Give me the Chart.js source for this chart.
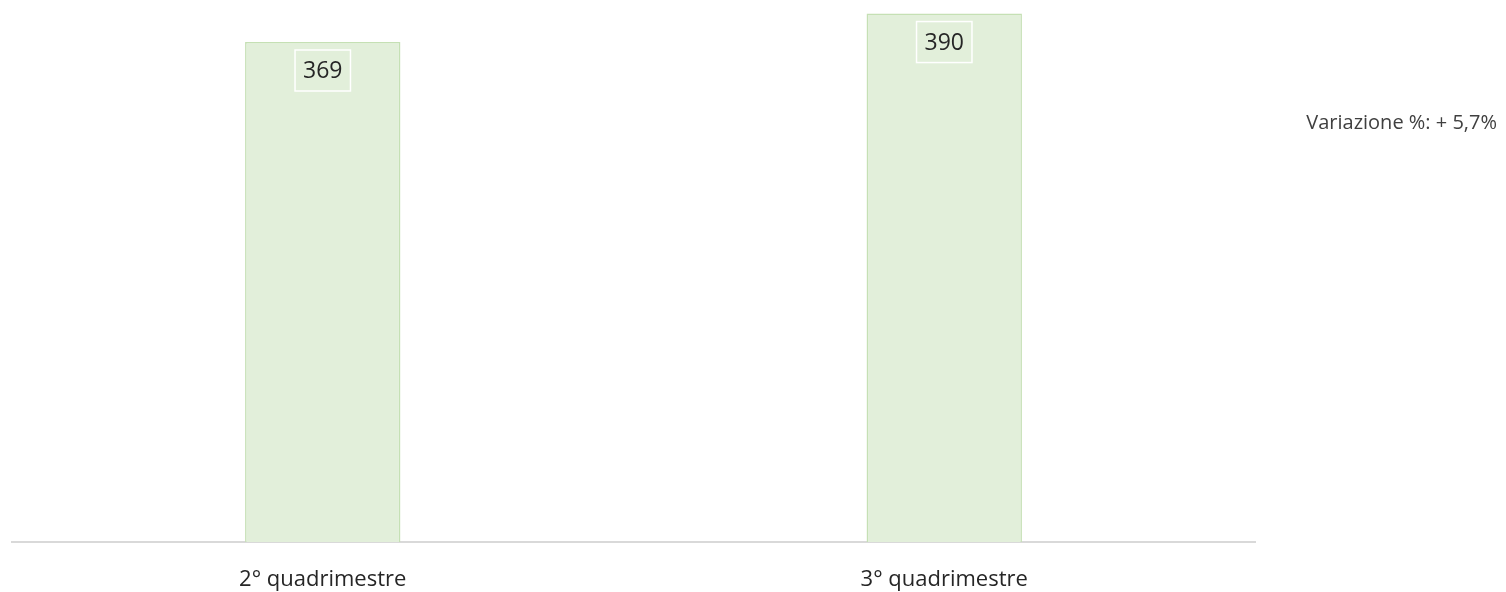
<!DOCTYPE html>
<html>
<head>
<meta charset="utf-8">
<script src="https://cdn.jsdelivr.net/npm/chart.js@4.4.1/dist/chart.umd.min.js"></script>
<style>
  html, body { margin: 0; padding: 0; background: #ffffff; }
  #wrap { width: 1506px; height: 592px; position: relative; }
</style>
</head>
<body>
<div id="wrap"><canvas id="c" width="1506" height="592"></canvas></div>
<script>
// Periods and counts
const categories = ['2° quadrimestre', '3° quadrimestre'];
const values = [369, 390];
const noteText = 'Variazione %: + 5,7%';

const FONT = '"Open Sans", "Noto Sans", sans-serif';

// Boxed value label near the top of each bar, plus the side note
const valueBoxes = {
  id: 'valueBoxes',
  afterDatasetsDraw(chart) {
    const ctx = chart.ctx;
    const meta = chart.getDatasetMeta(0);
    ctx.save();
    ctx.font = '23px ' + FONT;
    ctx.textAlign = 'center';
    ctx.textBaseline = 'middle';
    meta.data.forEach((bar, i) => {
      const txt = String(values[i]);
      const w = ctx.measureText(txt).width + 16;
      const h = 41;
      const top = bar.y + 8;
      ctx.strokeStyle = '#ffffff';
      ctx.lineWidth = 1.5;
      ctx.strokeRect(bar.x - w / 2, top, w, h);
      ctx.fillStyle = '#262626';
      ctx.fillText(txt, bar.x, top + h / 2 + 1);
    });
    ctx.font = '20px ' + FONT;
    ctx.textAlign = 'right';
    ctx.fillStyle = '#404040';
    ctx.fillText(noteText, 1497, 123);
    ctx.restore();
  }
};

new Chart(document.getElementById('c'), {
  type: 'bar',
  data: {
    labels: categories,
    datasets: [{
      data: values,
      backgroundColor: '#e2efda',
      borderColor: '#c5e0b4',
      borderWidth: 1.5,
      barPercentage: 0.5,
      categoryPercentage: 0.5
    }]
  },
  options: {
    responsive: false,
    animation: false,
    layout: { padding: { left: 12, right: 251, top: 0, bottom: 0 } },
    plugins: { legend: { display: false }, tooltip: { enabled: false } },
    scales: {
      x: {
        grid: { display: false, drawTicks: false },
        border: { display: true, color: '#d9d9d9', width: 2 },
        ticks: { color: '#262626', font: { family: FONT, size: 22 }, padding: 25, maxRotation: 0 },
        afterFit(scale) { scale.height = 50; }
      },
      y: {
        display: false,
        min: 0,
        max: 400
      }
    }
  },
  plugins: [valueBoxes]
});
</script>
</body>
</html>
